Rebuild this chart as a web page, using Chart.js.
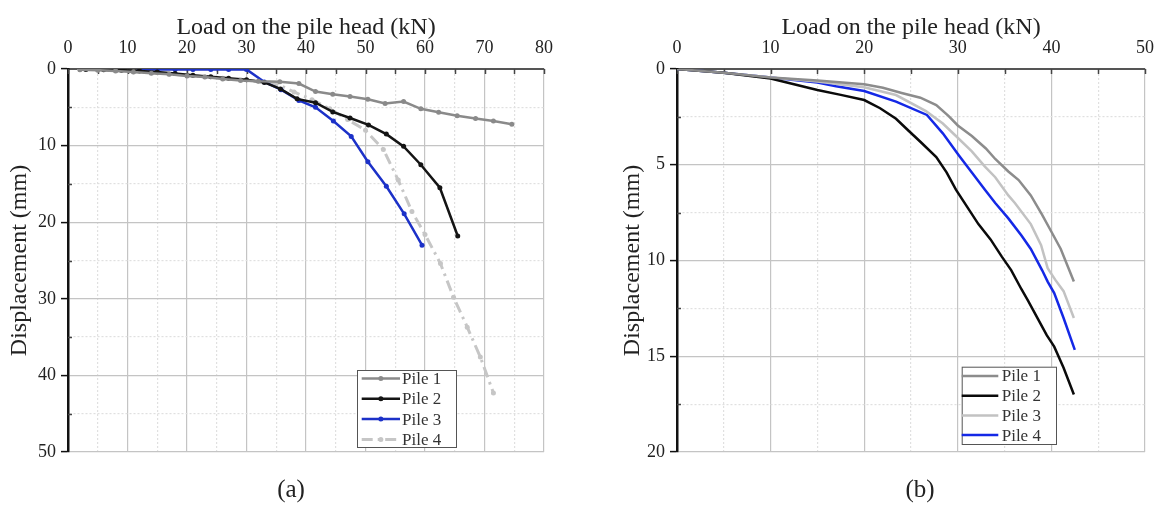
<!DOCTYPE html>
<html>
<head>
<meta charset="utf-8">
<script src="https://cdn.jsdelivr.net/npm/chart.js@4.4.1/dist/chart.umd.min.js"></script>
<style>
  html, body { margin: 0; padding: 0; background: #fff; }
  #wrap { position: relative; width: 1164px; height: 505px; overflow: hidden; }
  canvas { position: absolute; top: 0; }
  #chartA { left: 0; }
  #chartB { left: 580px; }
  .caption {
    position: absolute; top: 475px;
    font-family: 'Liberation Serif', 'Times New Roman', serif;
    font-size: 25px; color: #222;
    transform: translateX(-50%);
  }
</style>
</head>
<body>
<div id="wrap">
  <canvas id="chartA" width="580" height="505" style="width:580px;height:505px"></canvas>
  <canvas id="chartB" width="584" height="505" style="width:584px;height:505px"></canvas>
  <div class="caption" style="left:291px">(a)</div>
  <div class="caption" style="left:920px">(b)</div>
</div>
<script>
const SERIF = "'Liberation Serif', 'Times New Roman', serif";

// (a) load tests, one marker per load step
const pile1LoadA = [2, 5, 8, 11, 14, 17, 20, 23, 26, 29, 32, 35.6, 38.8, 41.6, 44.5, 47.4, 50.4, 53.3, 56.4, 59.3, 62.3, 65.4, 68.5, 71.5, 74.6];
const pile1DispA = [0.1, 0.15, 0.25, 0.4, 0.55, 0.7, 0.9, 1.05, 1.3, 1.5, 1.6, 1.65, 1.9, 2.95, 3.3, 3.6, 3.95, 4.5, 4.25, 5.2, 5.65, 6.1, 6.45, 6.8, 7.2];

const pile2LoadA = [3, 6, 9, 12, 15, 18, 21, 24, 27, 30, 33, 35.7, 38.5, 41.6, 44.5, 47.4, 50.5, 53.5, 56.4, 59.3, 62.5, 65.5];
const pile2DispA = [0.05, 0.1, 0.15, 0.25, 0.4, 0.6, 0.8, 1.0, 1.2, 1.4, 1.75, 2.6, 3.9, 4.4, 5.6, 6.4, 7.3, 8.5, 10.1, 12.5, 15.5, 21.8];

const pile3LoadA = [12, 15, 18, 21, 24, 27, 30, 33, 35.8, 38.8, 41.6, 44.6, 47.6, 50.4, 53.5, 56.5, 59.5];
const pile3DispA = [0.05, 0.05, 0.05, 0.05, 0.05, 0.05, 0.05, 1.7, 2.7, 4.1, 5.0, 6.8, 8.8, 12.1, 15.3, 18.9, 23.0];

const pile4LoadA = [2, 5, 8, 11, 14, 17, 20, 23, 26, 29, 32, 35, 38, 41, 44, 47, 50, 53, 55.5, 57.8, 60, 62.6, 64.8, 67.1, 69.3, 71.5];
const pile4DispA = [0.05, 0.1, 0.2, 0.35, 0.5, 0.65, 0.85, 1.0, 1.2, 1.4, 1.6, 1.9, 3.0, 4.0, 5.2, 6.6, 8.0, 10.5, 14.5, 18.6, 21.6, 25.4, 29.8, 33.7, 37.6, 42.3];

// (b) continuous records
const pile1LoadB = [0, 5, 10, 15, 20, 22, 24, 26, 27.7, 29, 30, 31.5, 33, 34, 35.4, 36.5, 37.8, 39, 40, 41, 42.4];
const pile1DispB = [0, 0.2, 0.45, 0.6, 0.8, 0.98, 1.25, 1.5, 1.88, 2.45, 2.95, 3.5, 4.15, 4.7, 5.35, 5.8, 6.6, 7.6, 8.5, 9.4, 11.1];

const pile2LoadB = [0, 5, 10, 12.5, 15, 17.5, 20, 21.7, 23.4, 24.8, 26, 27.7, 28.8, 29.8, 31, 32.2, 33.5, 34.7, 35.7, 36.8, 37.5, 38.5, 39.5, 40.3, 41.3, 42.4];
const pile2DispB = [0, 0.2, 0.5, 0.8, 1.1, 1.35, 1.62, 2.05, 2.6, 3.25, 3.8, 4.6, 5.4, 6.3, 7.2, 8.1, 8.9, 9.8, 10.5, 11.5, 12.1, 13.0, 13.9, 14.5, 15.6, 17.0];

const pile3LoadB = [0, 5, 10, 15, 20, 23.4, 26.6, 28.4, 29.8, 31.5, 32.9, 34, 35.4, 36.1, 37.8, 38.9, 39.6, 40.4, 41.3, 42.4];
const pile3DispB = [0, 0.2, 0.45, 0.65, 0.95, 1.36, 2.2, 2.85, 3.5, 4.3, 5.1, 5.65, 6.6, 7.0, 8.1, 9.2, 10.4, 11.0, 11.6, 13.0];

const pile4LoadB = [0, 5, 10, 15, 17, 20, 23.4, 26.7, 28.4, 30.1, 31.5, 32.9, 34, 35.4, 36.8, 37.8, 39, 39.6, 40.3, 41.3, 42.5];
const pile4DispB = [0, 0.2, 0.45, 0.7, 0.9, 1.15, 1.7, 2.4, 3.36, 4.5, 5.4, 6.3, 7.0, 7.8, 8.7, 9.4, 10.5, 11.1, 11.7, 13.0, 14.67];

const pileLabels = ['Pile 1', 'Pile 2', 'Pile 3', 'Pile 4'];

function pts(xs, ys) {
    return xs.map((x, i) => ({ x: x, y: ys[i] }));
}

// ticks on the top axis point down into the plot, minor ticks on the left axis too
const innerTicks = {
    id: 'innerTicks',
    beforeDatasetsDraw(chart, args, opts) {
        const { ctx, chartArea } = chart;
        const xs = chart.scales.x, ys = chart.scales.y;
        ctx.save();
        ctx.strokeStyle = '#444';
        ctx.lineWidth = 1.5;
        xs.ticks.forEach(t => {
            const px = Math.round(xs.getPixelForValue(t.value)) + 0.5;
            ctx.beginPath();
            ctx.moveTo(px, chartArea.top);
            ctx.lineTo(px, chartArea.top + opts.len);
            ctx.stroke();
        });
        ys.ticks.forEach(t => {
            if (t.value % opts.yMajor === 0) return;
            const py = Math.round(ys.getPixelForValue(t.value)) + 0.5;
            ctx.beginPath();
            ctx.moveTo(chartArea.left, py);
            ctx.lineTo(chartArea.left + opts.len - 1, py);
            ctx.stroke();
        });
        ctx.restore();
    }
};

// boxed legend sitting inside the plot
const boxLegend = {
    id: 'boxLegend',
    afterDatasetsDraw(chart, args, o) {
        const ctx = chart.ctx;
        ctx.save();
        ctx.fillStyle = '#fff';
        ctx.fillRect(o.x, o.y, o.w, o.h);
        ctx.strokeStyle = '#555';
        ctx.lineWidth = 1;
        ctx.strokeRect(o.x + 0.5, o.y + 0.5, o.w, o.h);
        ctx.font = '17px ' + SERIF;
        ctx.textBaseline = 'middle';
        chart.data.datasets.forEach((ds, i) => {
            const y = o.y + o.first + i * o.row;
            ctx.strokeStyle = ds.borderColor;
            ctx.lineWidth = ds.borderWidth;
            ctx.setLineDash(ds.borderDash || []);
            ctx.beginPath();
            ctx.moveTo(o.x + o.lineStart, y);
            ctx.lineTo(o.x + o.lineEnd, y);
            ctx.stroke();
            ctx.setLineDash([]);
            if (ds.pointRadius) {
                ctx.fillStyle = ds.borderColor;
                ctx.beginPath();
                ctx.arc(o.x + (o.lineStart + o.lineEnd) / 2, y, ds.pointRadius, 0, Math.PI * 2);
                ctx.fill();
            }
            ctx.fillStyle = '#333';
            ctx.fillText(ds.label, o.x + o.textX, y + 1);
        });
        ctx.restore();
    }
};

function makeOptions(cfg) {
    const isMajorX = c => c.tick && c.tick.value % cfg.xMajor === 0;
    const isMajorY = c => c.tick && c.tick.value % cfg.yMajor === 0;
    return {
        responsive: false,
        animation: false,
        layout: { padding: cfg.padding },
        plugins: {
            legend: { display: false },
            tooltip: { enabled: false },
            innerTicks: { len: 5, yMajor: cfg.yMajor },
            boxLegend: cfg.legend
        },
        elements: { line: { tension: 0 } },
        scales: {
            x: {
                type: 'linear',
                position: 'top',
                min: 0,
                max: cfg.xMax,
                afterFit: s => { s.height = cfg.topHeight; },
                ticks: {
                    stepSize: cfg.xMajor / 2,
                    autoSkip: false,
                    maxRotation: 0,
                    padding: 10,
                    color: '#222',
                    font: { family: SERIF, size: 18 },
                    callback: v => (v % cfg.xMajor === 0 ? v : '')
                },
                grid: {
                    drawTicks: false,
                    color: c => (isMajorX(c) ? '#c4c4c4' : '#e0e0e0'),
                    lineWidth: 1.2
                },
                border: {
                    color: '#555',
                    width: 2,
                    dash: c => (c.tick && !isMajorX(c) ? [2, 2] : [])
                },
                title: {
                    display: true,
                    text: 'Load on the pile head (kN)',
                    color: '#222',
                    font: { family: SERIF, size: 24, lineHeight: 1 },
                    padding: { top: 16, bottom: 0 }
                }
            },
            y: {
                type: 'linear',
                reverse: true,
                min: 0,
                max: cfg.yMax,
                afterFit: s => { s.width = cfg.leftWidth; },
                ticks: {
                    stepSize: cfg.yMajor / 2,
                    autoSkip: false,
                    padding: 5,
                    color: '#222',
                    font: { family: SERIF, size: 18 },
                    callback: v => (v % cfg.yMajor === 0 ? v : '')
                },
                grid: {
                    tickLength: 7,
                    tickWidth: 1.5,
                    tickColor: c => (isMajorY(c) ? '#111' : 'rgba(0,0,0,0)'),
                    color: c => (isMajorY(c) ? '#c4c4c4' : '#e0e0e0'),
                    lineWidth: 1.2
                },
                border: {
                    color: '#111',
                    width: 2.5,
                    dash: c => (c.tick && !isMajorY(c) ? [2, 2] : [])
                },
                title: {
                    display: true,
                    text: 'Displacement (mm)',
                    color: '#222',
                    font: { family: SERIF, size: 24, lineHeight: 1 },
                    padding: { top: cfg.yTitlePad, bottom: 0 }
                }
            }
        }
    };
}

function markerSet(label, color, xs, ys, extra) {
    return Object.assign({
        label: label,
        data: pts(xs, ys),
        borderColor: color,
        backgroundColor: color,
        borderWidth: 2.5,
        pointRadius: 2.5,
        pointBorderWidth: 0,
        pointBackgroundColor: color
    }, extra || {});
}

function curveSet(label, color, xs, ys) {
    return {
        label: label,
        data: pts(xs, ys),
        borderColor: color,
        backgroundColor: color,
        borderWidth: 2.5,
        pointRadius: 0
    };
}

new Chart(document.getElementById('chartA'), {
    type: 'line',
    data: {
        datasets: [
            markerSet(pileLabels[0], '#8a8a8a', pile1LoadA, pile1DispA),
            markerSet(pileLabels[1], '#141414', pile2LoadA, pile2DispA),
            markerSet(pileLabels[2], '#1c31c8', pile3LoadA, pile3DispA),
            markerSet(pileLabels[3], '#c6c6c6', pile4LoadA, pile4DispA, { borderWidth: 3, borderDash: [11, 5, 2.5, 5] })
        ]
    },
    options: makeOptions({
        xMax: 80, xMajor: 10, yMax: 50, yMajor: 10,
        padding: { left: 0, right: 36, top: 0, bottom: 53 },
        topHeight: 69, leftWidth: 68, yTitlePad: 8,
        legend: { x: 357, y: 370, w: 99, h: 77, first: 8.5, row: 20.3, lineStart: 4.7, lineEnd: 43, textX: 45 }
    }),
    plugins: [innerTicks, boxLegend]
});

new Chart(document.getElementById('chartB'), {
    type: 'line',
    data: {
        datasets: [
            curveSet(pileLabels[0], '#8c8c8c', pile1LoadB, pile1DispB),
            curveSet(pileLabels[1], '#0a0a0a', pile2LoadB, pile2DispB),
            curveSet(pileLabels[2], '#c2c2c2', pile3LoadB, pile3DispB),
            curveSet(pileLabels[3], '#1428e6', pile4LoadB, pile4DispB)
        ]
    },
    options: makeOptions({
        xMax: 50, xMajor: 10, yMax: 20, yMajor: 5,
        padding: { left: 0, right: 12, top: 0, bottom: 53 },
        topHeight: 69, leftWidth: 97, yTitlePad: 40.5,
        legend: { x: 381.7, y: 366.7, w: 94.3, h: 77.3, first: 9.3, row: 19.7, lineStart: 0, lineEnd: 36.6, textX: 40 }
    }),
    plugins: [innerTicks, boxLegend]
});
</script>
</body>
</html>
